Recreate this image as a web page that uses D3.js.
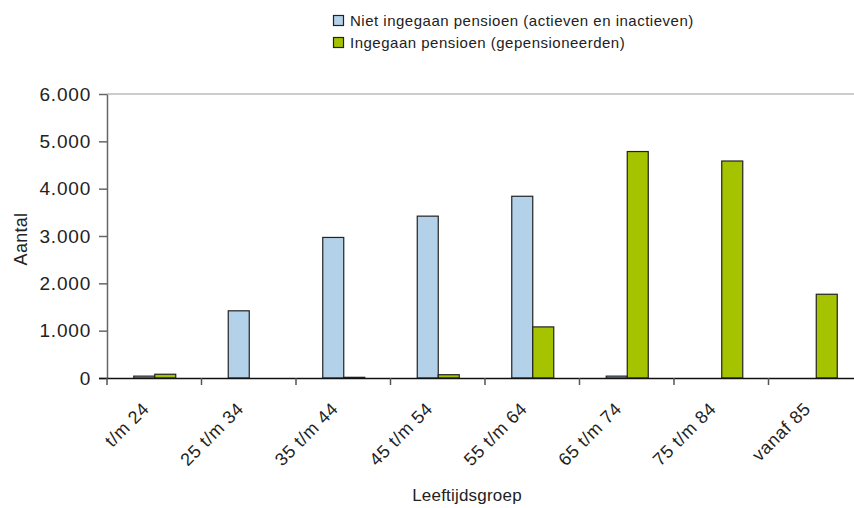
<!DOCTYPE html>
<html><head><meta charset="utf-8">
<script src="https://cdn.jsdelivr.net/npm/d3@7"></script>
<style>body{margin:0;background:#fff}svg{display:block;font-family:"Liberation Sans",Arial,sans-serif}</style>
</head><body><svg id="c" width="854" height="508"></svg>
<script>
const categories = ["t/m 24","25 t/m 34","35 t/m 44","45 t/m 54","55 t/m 64","65 t/m 74","75 t/m 84","vanaf 85"];
const nietIngegaan = [50, 1430, 2980, 3430, 3850, 50, 0, 0];
const ingegaan = [90, 5, 25, 80, 1090, 4795, 4595, 1780];
const seriesNames = ["Niet ingegaan pensioen (actieven en inactieven)", "Ingegaan pensioen (gepensioneerden)"];
const yTicks = [0, 1000, 2000, 3000, 4000, 5000, 6000];
const yTickLabels = ["0","1.000","2.000","3.000","4.000","5.000","6.000"];
const colors = ["#b3d2ea", "#a6c300"];

(function(){
const svg = d3.select("#c");
const mLeft = 107, mRight = 863, mTop = 94, mBottom = 378;
const x = d3.scaleBand().domain(categories).range([mLeft, mRight]).paddingInner(0).paddingOuter(0);
const inner = d3.scaleBand().domain([0,1]).range([0, x.bandwidth()]).paddingInner(0).paddingOuter(1.25);
const y = d3.scaleLinear().domain([0, 6000]).range([mBottom, mTop]);

svg.append("line").attr("x1", mLeft).attr("x2", 854).attr("y1", y(6000)).attr("y2", y(6000)).attr("stroke", "#999").attr("stroke-width", 1);

const series = [nietIngegaan, ingegaan];
series.forEach((vals, si) => {
  svg.append("g").selectAll("rect").data(vals).join("rect")
    .attr("x", (d, i) => x(categories[i]) + inner(si) + 0.5)
    .attr("y", d => y(d) + 0.5)
    .attr("width", inner.bandwidth())
    .attr("height", d => Math.max(0, mBottom - y(d) - 0.5))
    .attr("fill", colors[si])
    .attr("stroke", d => d > 0 ? "#222" : "none")
    .attr("stroke-width", 1.2);
});

const ya = svg.append("g").attr("transform", `translate(${mLeft},0)`)
  .call(d3.axisLeft(y).tickValues(yTicks).tickFormat((d, i) => yTickLabels[i]).tickSize(8).tickSizeOuter(0).tickPadding(8));
ya.select(".domain").attr("stroke", "#666").attr("stroke-width", 1.5);
ya.selectAll(".tick line").attr("stroke", "#666").attr("stroke-width", 1.5);
ya.selectAll("text").attr("font-size", 19).attr("letter-spacing", 0.8).attr("fill", "#222").attr("font-family", "Liberation Sans, Arial, sans-serif");

const xa = svg.append("g").attr("transform", `translate(0,${mBottom})`);
xa.append("line").attr("x1", mLeft - 8).attr("x2", 854).attr("y1", 0.5).attr("y2", 0.5).attr("stroke", "#111").attr("stroke-width", 1.5);
xa.selectAll("line.tk").data(categories).join("line").attr("class", "tk")
  .attr("x1", d => x(d)).attr("x2", d => x(d)).attr("y1", 0).attr("y2", 7).attr("stroke", "#555").attr("stroke-width", 1.5);
xa.selectAll("text").data(categories).join("text")
  .attr("transform", d => `translate(${x(d) + x.bandwidth()/2 - 4},${32}) rotate(-45)`)
  .attr("text-anchor", "end").attr("font-size", 18).attr("letter-spacing", 0.6).attr("fill", "#222").text(d => d);

svg.append("text").attr("transform", `translate(27,${239}) rotate(-90)`)
  .attr("text-anchor", "middle").attr("font-size", 18).attr("letter-spacing", 0.3).attr("fill", "#222").text("Aantal");
svg.append("text").attr("x", 467).attr("y", 501).attr("text-anchor", "middle").attr("font-size", 17).attr("letter-spacing", 0.2).attr("fill", "#222").text("Leeftijdsgroep");

const lg = svg.append("g");
seriesNames.forEach((n, i) => {
  lg.append("rect").attr("x", 333.5).attr("y", 15.5 + i * 22).attr("width", 10).attr("height", 10)
    .attr("fill", colors[i]).attr("stroke", "#222").attr("stroke-width", 1.2);
  lg.append("text").attr("x", 350).attr("y", 26 + i * 22).attr("font-size", 15).attr("letter-spacing", 0.5).attr("fill", "#222").text(n);
});
})();
</script></body></html>
